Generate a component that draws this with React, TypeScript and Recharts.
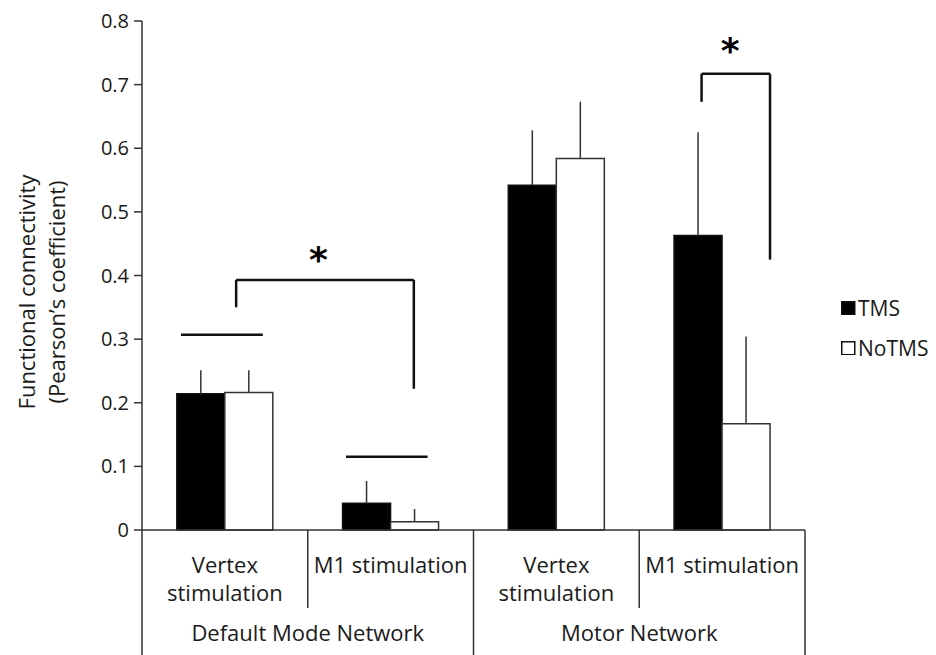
import React from "react";
import { BarChart, Bar, XAxis, YAxis, ErrorBar, ReferenceLine, ReferenceDot, Legend } from "recharts";

document.body.style.margin = "0";

const FONT = "'Open Sans', 'Noto Sans', sans-serif";
const INK = "#1a1a1a";

// categories (bottom axis) and the network each pair belongs to
const categories = ["DMN Vertex", "DMN M1", "Motor Vertex", "Motor M1"];
const categoryLines = [["Vertex", "stimulation"], ["M1 stimulation"], ["Vertex", "stimulation"], ["M1 stimulation"]];
const networks = ["Default Mode Network", "Motor Network"];

// mean functional connectivity and upper error (one-sided)
const tmsValues = [0.214, 0.042, 0.542, 0.463];
const tmsErrors = [0.037, 0.035, 0.086, 0.162];
const noTmsValues = [0.216, 0.013, 0.584, 0.167];
const noTmsErrors = [0.035, 0.02, 0.089, 0.137];

const yTicks = [0, 0.1, 0.2, 0.3, 0.4, 0.5, 0.6, 0.7, 0.8];

// annotations, x in category units (0..4), y in data units
const meanLines = [
  { x1: 0.235, x2: 0.729, y: 0.307 },
  { x1: 1.231, x2: 1.723, y: 0.115 },
];
const brackets = [
  { x1: 0.568, x2: 1.64, top: 0.393, left: 0.35, right: 0.222 },
  { x1: 3.376, x2: 3.789, top: 0.717, left: 0.673, right: 0.425 },
];
const stars = [
  { x: 1.064, y: 0.426 },
  { x: 3.548, y: 0.754 },
];

const data = categories.map((name, i) => ({
  name,
  pos: i + 0.5,
  tms: tmsValues[i],
  tmsErr: [0, tmsErrors[i]],
  noTms: noTmsValues[i],
  noTmsErr: [0, noTmsErrors[i]],
}));

function CategoryTick(props: any) {
  const { x, y, payload, index } = props;
  const off = payload?.offset ?? 83;
  const lines = categoryLines[index] || [];
  const longRight = index % 2 === 1;
  return (
    <g>
      {index === 0 && <line x1={x - off} x2={x - off} y1={y} y2={y + 125} stroke="#333" strokeWidth={1.5} />}
      <line x1={x + off} x2={x + off} y1={y} y2={y + (longRight ? 125 : 78)} stroke="#333" strokeWidth={1.5} />
      {lines.map((t, k) => (
        <text key={k} x={x} y={y + 43 + k * 28} textAnchor="middle" fill={INK} fontSize={22} fontFamily={FONT}>
          {t}
        </text>
      ))}
      {longRight && (
        <text x={x - off} y={y + 111} textAnchor="middle" fill={INK} fontSize={22} fontFamily={FONT}>
          {networks[(index - 1) / 2]}
        </text>
      )}
    </g>
  );
}

function YLabel() {
  return (
    <g fontFamily={FONT} fontSize={22} fill={INK}>
      <text x={26} y={292} transform="rotate(-90, 26, 292)" textAnchor="middle" dominantBaseline="central">
        Functional connectivity
      </text>
      <text x={56} y={292} transform="rotate(-90, 56, 292)" textAnchor="middle" dominantBaseline="central">
        (Pearson’s coefficient)
      </text>
    </g>
  );
}

function LegendBox() {
  const row = (fill: string, label: string) => (
    <div style={{ display: "flex", alignItems: "center", height: 20, marginBottom: 20 }}>
      <svg width={17} height={14}>
        <rect x={0.75} y={0.75} width={13} height={13} fill={fill} stroke="#111" strokeWidth={1.5} />
      </svg>
      <span style={{ fontFamily: FONT, fontSize: 21, color: INK }}>{label}</span>
    </div>
  );
  return (
    <div>
      {row("#000", "TMS")}
      {row("#fff", "NoTMS")}
    </div>
  );
}

export default function App() {
  return (
    <div style={{ width: 936, height: 655, background: "#fff" }}>
      <BarChart width={936} height={655} data={data} margin={{ top: 21, right: 131, left: 0, bottom: 0 }} barCategoryGap="21%" barGap={0}>
        <XAxis dataKey="name" height={125} tickLine={false} tickSize={0} tickMargin={0} interval={0} axisLine={{ stroke: "#333", strokeWidth: 1.5 }} tick={<CategoryTick />} />
        <XAxis xAxisId="num" dataKey="pos" type="number" domain={[0, 4]} allowDataOverflow hide />
        <YAxis
          width={142}
          domain={[0, 0.8]}
          ticks={yTicks}
          interval={0}
          tickSize={8}
          tickMargin={5}
          tickFormatter={(v) => (v === 0 ? "0" : String(v))}
          tick={{ fill: INK, fontSize: 20, fontFamily: FONT }}
          axisLine={{ stroke: "#333", strokeWidth: 1.5 }}
          tickLine={{ stroke: "#333", strokeWidth: 1.5 }}
          label={{ content: () => <YLabel /> }}
        />
        <Legend layout="horizontal" verticalAlign="middle" align="center" content={<LegendBox />} wrapperStyle={{ left: 841, top: 298, width: 95 }} />
        <Bar dataKey="tms" name="TMS" fill="#000" stroke="#111" strokeWidth={1.5} isAnimationActive={false}>
          <ErrorBar dataKey="tmsErr" width={0} stroke="#333" strokeWidth={1.5} />
        </Bar>
        <Bar dataKey="noTms" name="NoTMS" fill="#fff" stroke="#333" strokeWidth={1.5} isAnimationActive={false}>
          <ErrorBar dataKey="noTmsErr" width={0} stroke="#333" strokeWidth={1.5} />
        </Bar>
        {meanLines.map((m, i) => (
          <ReferenceLine key={"m" + i} xAxisId="num" segment={[{ x: m.x1, y: m.y }, { x: m.x2, y: m.y }]} stroke="#111" strokeWidth={2.5} />
        ))}
        {brackets.map((b, i) => (
          <React.Fragment key={"b" + i}>
            <ReferenceLine xAxisId="num" segment={[{ x: b.x1, y: b.top }, { x: b.x2, y: b.top }]} stroke="#111" strokeWidth={2.5} />
            <ReferenceLine xAxisId="num" segment={[{ x: b.x1, y: b.top }, { x: b.x1, y: b.left }]} stroke="#111" strokeWidth={2.5} />
            <ReferenceLine xAxisId="num" segment={[{ x: b.x2, y: b.top }, { x: b.x2, y: b.right }]} stroke="#111" strokeWidth={2.5} />
          </React.Fragment>
        ))}
        {stars.map((s, i) => (
          <ReferenceDot
            key={"s" + i}
            xAxisId="num"
            x={s.x}
            y={s.y}
            r={0}
            fill="none"
            stroke="none"
            label={{ value: "*", position: "center", fontSize: 36, fontWeight: "bold", fontFamily: "'DejaVu Sans', sans-serif", fill: "#000" }}
          />
        ))}
      </BarChart>
    </div>
  );
}
